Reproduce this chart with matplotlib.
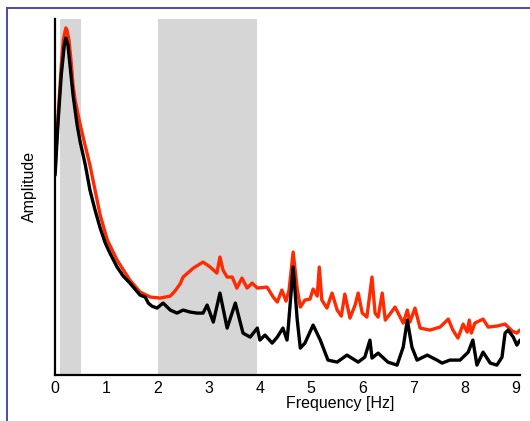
import numpy as np
import matplotlib
matplotlib.use("Agg")
import matplotlib.pyplot as plt
from matplotlib.lines import Line2D

plt.rcParams['font.family'] = ['Liberation Sans', 'DejaVu Sans']

# black spectrum
freq_black = [0.00, 0.06, 0.12, 0.18, 0.21, 0.25, 0.29, 0.35, 0.43, 0.49, 0.59, 0.68, 0.78, 0.88, 0.98,
              1.07, 1.21, 1.33, 1.46, 1.66, 1.76, 1.82, 1.89, 1.99, 2.11, 2.25, 2.38, 2.50, 2.64, 2.77,
              2.89, 2.97, 3.09, 3.22, 3.36, 3.52, 3.67, 3.81, 3.95, 4.00, 4.10, 4.24, 4.34, 4.45, 4.53,
              4.55, 4.65, 4.73, 4.79, 4.88, 5.04, 5.18, 5.33, 5.51, 5.70, 5.92, 6.05, 6.15, 6.19, 6.31,
              6.50, 6.68, 6.80, 6.88, 6.97, 7.07, 7.27, 7.46, 7.56, 7.71, 7.91, 8.07, 8.16, 8.24, 8.36,
              8.50, 8.63, 8.73, 8.79, 8.85, 8.95, 9.02, 9.08]
amp_black = [2.00, 2.55, 3.00, 3.30, 3.37, 3.30, 3.10, 2.80, 2.50, 2.33, 2.10, 1.85, 1.65, 1.47, 1.32,
             1.22, 1.08, 0.99, 0.92, 0.80, 0.78, 0.72, 0.69, 0.67, 0.72, 0.65, 0.62, 0.65, 0.63, 0.62,
             0.62, 0.70, 0.53, 0.82, 0.47, 0.72, 0.42, 0.38, 0.47, 0.35, 0.40, 0.32, 0.38, 0.47, 0.35,
             0.45, 1.08, 0.55, 0.27, 0.32, 0.50, 0.35, 0.15, 0.13, 0.20, 0.13, 0.18, 0.35, 0.17, 0.22,
             0.13, 0.10, 0.28, 0.55, 0.28, 0.15, 0.20, 0.15, 0.12, 0.15, 0.15, 0.23, 0.35, 0.10, 0.23,
             0.12, 0.10, 0.18, 0.42, 0.45, 0.38, 0.30, 0.35]

# red spectrum
freq_red = [0.00, 0.06, 0.12, 0.16, 0.20, 0.21, 0.23, 0.27, 0.31, 0.35, 0.39, 0.47, 0.57, 0.68, 0.78,
            0.88, 1.02, 1.21, 1.46, 1.66, 1.86, 2.05, 2.25, 2.34, 2.44, 2.50, 2.70, 2.89, 3.03, 3.16,
            3.22, 3.28, 3.36, 3.46, 3.55, 3.65, 3.75, 3.85, 3.95, 4.14, 4.26, 4.34, 4.43, 4.51, 4.57,
            4.65, 4.73, 4.79, 4.88, 4.98, 5.04, 5.12, 5.16, 5.21, 5.31, 5.41, 5.51, 5.59, 5.66, 5.76,
            5.86, 5.92, 6.00, 6.09, 6.19, 6.25, 6.31, 6.39, 6.45, 6.54, 6.64, 6.74, 6.80, 6.88, 6.93,
            7.03, 7.13, 7.32, 7.52, 7.68, 7.77, 7.87, 7.97, 8.05, 8.09, 8.13, 8.20, 8.36, 8.46, 8.63,
            8.79, 8.93, 9.02, 9.08]
amp_red = [2.07, 2.60, 3.10, 3.35, 3.45, 3.47, 3.45, 3.35, 3.15, 2.90, 2.75, 2.55, 2.33, 2.10, 1.85,
           1.60, 1.35, 1.15, 0.95, 0.83, 0.78, 0.77, 0.79, 0.84, 0.91, 0.98, 1.07, 1.13, 1.08, 1.02,
           1.18, 1.05, 0.98, 0.98, 0.87, 0.97, 0.87, 0.92, 0.87, 0.88, 0.78, 0.73, 0.85, 0.74, 0.85,
           1.23, 0.86, 0.68, 0.75, 0.76, 0.86, 0.79, 1.08, 0.75, 0.67, 0.82, 0.65, 0.59, 0.81, 0.57,
           0.70, 0.82, 0.62, 0.58, 0.98, 0.62, 0.58, 0.82, 0.55, 0.61, 0.68, 0.58, 0.52, 0.65, 0.53,
           0.67, 0.47, 0.45, 0.48, 0.56, 0.45, 0.37, 0.51, 0.43, 0.55, 0.42, 0.52, 0.56, 0.48, 0.49,
           0.51, 0.44, 0.42, 0.45]

# shaded frequency bands
bands = [(0.1, 0.5), (2.0, 3.95)]
xticks = list(range(10))

fig = plt.figure(figsize=(5.30, 4.21), dpi=100)
ax = fig.add_axes([0.104, 0.109, 0.877, 0.846])

for lo, hi in bands:
    ax.axvspan(lo, hi, color='#d6d6d6', lw=0, zorder=0)

ax.plot(freq_red, amp_red, color='#ff2a00', lw=2.4, solid_joinstyle='round',
        solid_capstyle='round', zorder=2)
ax.plot(freq_black, amp_black, color='black', lw=2.4, solid_joinstyle='round',
        solid_capstyle='round', zorder=3)

ax.set_xlim(0, 9.08)
ax.set_ylim(0, 3.56)
ax.set_xticks(xticks)
ax.set_yticks([])
ax.tick_params(axis='x', length=0, labelsize=11.5, pad=4)
for s in ['top', 'right']:
    ax.spines[s].set_visible(False)
for s in ['left', 'bottom']:
    ax.spines[s].set_linewidth(1.6)

ax.set_xlabel('Frequency [Hz]', fontsize=11.5)
ax.xaxis.set_label_coords(0.613, -0.058)
ax.set_ylabel('Amplitude', fontsize=11.5)
ax.yaxis.set_label_coords(-0.038, 0.53)

# outer frame lines
fig.add_artist(Line2D([7 / 530, 1], [1 - 8 / 421, 1 - 8 / 421], color='#4b4bab', lw=1.4))
fig.add_artist(Line2D([7 / 530, 7 / 530], [0, 1 - 8 / 421], color='#4b4bab', lw=1.4))

fig.savefig('out.png', dpi=100)
